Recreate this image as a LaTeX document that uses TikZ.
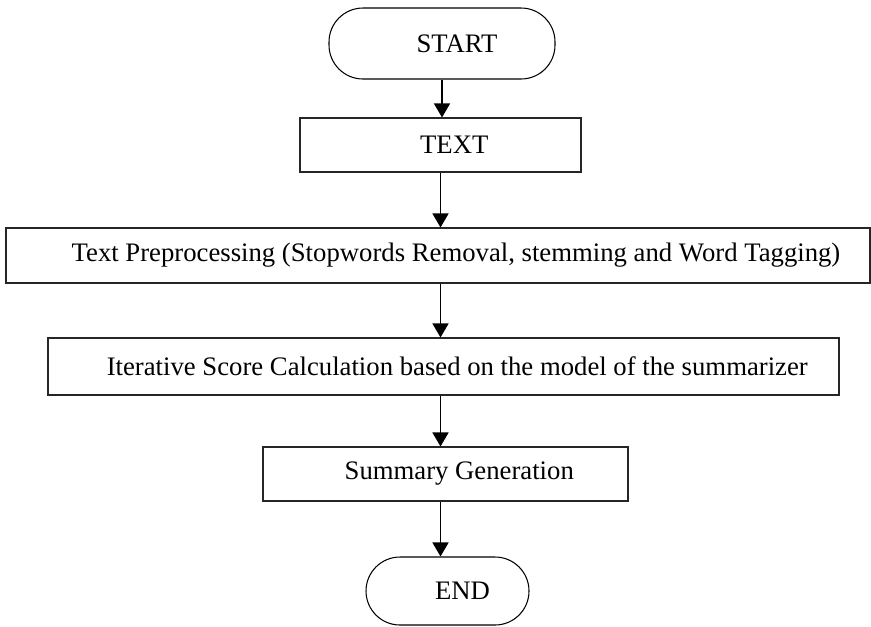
\documentclass[tikz,border=0pt]{standalone}
\usepackage{fontspec}
\setmainfont{Liberation Serif}
\usetikzlibrary{arrows.meta,positioning}

\begin{document}
\begin{tikzpicture}[>={Triangle[length=0.28cm,width=0.32cm]}, semithick,
        font=\fontsize{15.2}{18}\selectfont,
        terminal/.style={draw=black,rounded corners=0.68cm,inner sep=0pt,
          execute at begin node=\hspace*{0.6cm}},
        process/.style={draw=black!85,inner sep=0pt,
          execute at begin node=\hspace*{0.55cm}}]
        \useasboundingbox (0,0) rectangle (17.42,-12.52);
        \node[terminal,minimum width=4.52cm,minimum height=1.42cm] at (8.84,-0.87) (start) {START};
        \node[process,minimum width=5.62cm,minimum height=1.08cm] at (8.81,-2.90) (text) {TEXT};
        \node[process,minimum width=17.28cm,minimum height=1.10cm] at (8.76,-5.11) (prep)
          {\hspace*{0.17cm}Text Preprocessing (Stopwords Removal, stemming and Word Tagging)};
        \node[process,minimum width=15.82cm,minimum height=1.14cm] at (8.87,-7.33) (score)
          {Iterative Score Calculation based on the model of the summarizer};
        \node[process,minimum width=7.30cm,minimum height=1.08cm] at (8.91,-9.48) (summary) {Summary Generation};
        \node[terminal,minimum width=3.26cm,minimum height=1.36cm] at (8.95,-11.82) (end) {END};
        \draw[->,thick] (start.south) -- (start.south |- text.north);
        \draw[->,thick] (text.south) -- (text.south |- prep.north);
        \draw[->,thick] (text.south |- prep.south) -- (text.south |- score.north);
        \draw[->,thick] (text.south |- score.south) -- (text.south |- summary.north);
        \draw[->,thick] (text.south |- summary.south) -- (text.south |- end.north);
      \end{tikzpicture}
\end{document}
